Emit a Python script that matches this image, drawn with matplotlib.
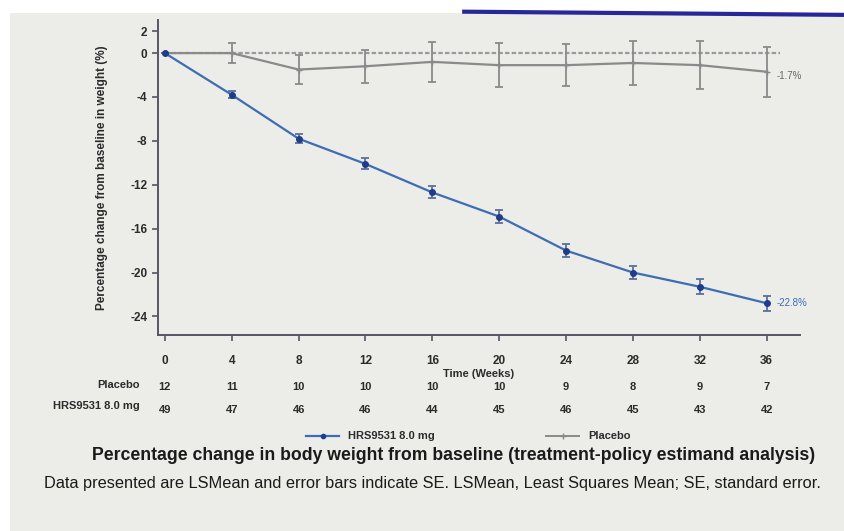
import matplotlib.pyplot as plt
from matplotlib.transforms import blended_transform_factory
from matplotlib.patches import Rectangle
from matplotlib.lines import Line2D

plt.rcParams['font.family'] = ['Liberation Sans', 'DejaVu Sans']
plt.rcParams['axes.unicode_minus'] = False

weeks = [0, 4, 8, 12, 16, 20, 24, 28, 32, 36]
hrs = [0, -3.8, -7.8, -10.1, -12.7, -14.9, -18.0, -20.0, -21.3, -22.8]
hrs_se = [0, 0.3, 0.4, 0.5, 0.55, 0.6, 0.6, 0.6, 0.7, 0.7]
placebo = [0, 0.0, -1.5, -1.2, -0.8, -1.1, -1.1, -0.9, -1.1, -1.7]
placebo_se = [0, 0.9, 1.3, 1.5, 1.8, 2.0, 1.9, 2.0, 2.2, 2.3]
n_placebo = [12, 11, 10, 10, 10, 10, 9, 8, 9, 7]
n_hrs = [49, 47, 46, 46, 44, 45, 46, 45, 43, 42]
yticks = [2, 0, -4, -8, -12, -16, -20, -24]

bg = '#ecece9'
blue = '#3d6db3'
dark_blue = '#1f3c8c'
gray = '#8a8a8a'
txt = '#2b2b2b'

fig = plt.figure(figsize=(8.44, 5.31), dpi=100, facecolor='white')
# slide background + top decoration
fig.patches.append(Rectangle((0.012, 0), 0.988, 0.975, transform=fig.transFigure,
                             facecolor=bg, edgecolor='none', zorder=-10))
fig.add_artist(Line2D([0.55, 1.0], [0.978, 0.972], transform=fig.transFigure,
                      color='#27279a', lw=3))

ax = fig.add_axes([0.187, 0.369, 0.761, 0.593])
ax.set_facecolor(bg)

ax.hlines(0, weeks[0], weeks[-1] + 0.8, colors='#9a9a9a', linestyles=(0, (2, 1)), lw=1.6, zorder=1)

ax.errorbar(weeks, placebo, yerr=placebo_se, color=gray, lw=1.6, marker='+', ms=5,
            ecolor=gray, elinewidth=1.3, capsize=3, capthick=1.3, zorder=2)
ax.errorbar(weeks, hrs, yerr=hrs_se, color=blue, lw=1.6, marker='o', ms=4,
            mfc=dark_blue, mec=dark_blue, ecolor='#5a6f9a', elinewidth=1.3, capsize=3,
            capthick=1.3, zorder=3)

ax.text(weeks[-1] + 0.6, hrs[-1], f'{hrs[-1]:.1f}%', color=blue, fontsize=7,
        va='center', ha='left')
ax.text(weeks[-1] + 0.6, placebo[-1] - 0.4, f'{placebo[-1]:.1f}%', color='#666666', fontsize=7,
        va='center', ha='left')

ax.set_xlim(-0.42, 38.0)
ax.set_ylim(-25.7, 3.0)
ax.set_xticks(weeks)
ax.set_yticks(yticks)
ax.tick_params(axis='both', colors='#555566', labelcolor=txt, labelsize=8.5, length=4, width=1.2)
ax.tick_params(axis='x', pad=10)
for lbl in ax.get_xticklabels() + ax.get_yticklabels():
    lbl.set_fontweight('bold')
for s in ['top', 'right']:
    ax.spines[s].set_visible(False)
for s in ['left', 'bottom']:
    ax.spines[s].set_color('#555566')
    ax.spines[s].set_linewidth(1.4)

ax.set_xlabel('Time (Weeks)', fontsize=8, fontweight='bold', color=txt, labelpad=2)
ax.set_ylabel('Percentage change from baseline in weight (%)', fontsize=8.5,
              fontweight='bold', color=txt, labelpad=16)

# number at risk table
tr = blended_transform_factory(ax.transData, fig.transFigure)
fig.text(0.166, 0.275, 'Placebo', ha='right', va='center', fontsize=8, fontweight='bold', color=txt)
fig.text(0.166, 0.235, 'HRS9531 8.0 mg', ha='right', va='center', fontsize=8, fontweight='bold', color=txt)
for w, a, b in zip(weeks, n_placebo, n_hrs):
    ax.text(w, 0.272, str(a), transform=tr, ha='center', va='center', fontsize=8,
            fontweight='bold', color=txt)
    ax.text(w, 0.228, str(b), transform=tr, ha='center', va='center', fontsize=8,
            fontweight='bold', color=txt)

handles = [Line2D([], [], color=blue, lw=1.6, marker='o', ms=3, mfc=dark_blue, mec=dark_blue),
           Line2D([], [], color=gray, lw=1.4, marker='+', ms=5)]
leg = fig.legend(handles, ['HRS9531 8.0 mg', 'Placebo'], loc='center',
                 bbox_to_anchor=(0.555, 0.178), ncol=2, frameon=False, fontsize=8,
                 columnspacing=10, handlelength=3)
for t in leg.get_texts():
    t.set_fontweight('bold')
    t.set_color(txt)

fig.text(0.537, 0.143, 'Percentage change in body weight from baseline (treatment-policy estimand analysis)',
         ha='center', va='center', fontsize=12.7, fontweight='bold', color='#1a1a1a')
fig.text(0.512, 0.09, 'Data presented are LSMean and error bars indicate SE. LSMean, Least Squares Mean; SE, standard error.',
         ha='center', va='center', fontsize=11.8, color='#1a1a1a')

fig.savefig('out.png', dpi=100, facecolor=fig.get_facecolor())
